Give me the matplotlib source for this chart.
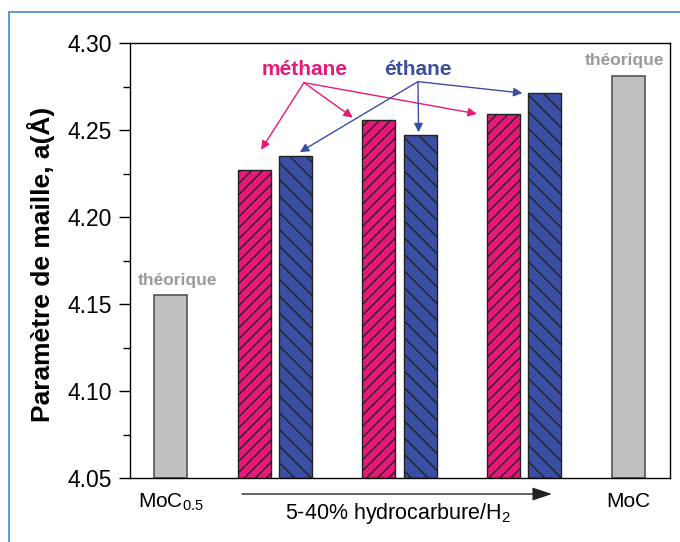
import matplotlib
matplotlib.use("Agg")
import matplotlib.pyplot as plt
from matplotlib.patches import Rectangle
from matplotlib.ticker import MultipleLocator

# ---- data ----
group_pos = [1, 2, 3]
methane = [4.227, 4.256, 4.259]
ethane = [4.235, 4.247, 4.271]
theo_pos = [0.168, 3.832]
theo_values = [4.155, 4.281]
theo_labels = [r"MoC$_{\mathrm{0.5}}$", "MoC"]
yticks = [4.05, 4.10, 4.15, 4.20, 4.25, 4.30]

plt.rcParams['font.family'] = ['Liberation Sans', 'DejaVu Sans']
plt.rcParams['mathtext.fontset'] = 'custom'
plt.rcParams['mathtext.rm'] = 'Liberation Sans'
plt.rcParams['mathtext.it'] = 'Liberation Sans:italic'
plt.rcParams['mathtext.bf'] = 'Liberation Sans:bold'
plt.rcParams['hatch.linewidth'] = 1.0

PINK = '#E8187A'
BLUE = '#3A4FA3'
GRAY = '#C0C0C0'
TXTGRAY = '#9A9A9A'

fig = plt.figure(figsize=(6.8, 5.42), dpi=100)
ax = fig.add_axes([130/680, 1-478/542, 540/680, 435/542])

# outer light-blue frame
fig.patches.append(Rectangle((9/680, -0.2), 1.5, 1-11.5/542+0.2, transform=fig.transFigure,
                             fill=False, edgecolor='#4A86C8', lw=1.2))

w = 0.265
off = 0.165
ax.bar(theo_pos, [v - 4.05 for v in theo_values], bottom=4.05, width=w,
       color=GRAY, edgecolor='#555555', lw=1.2, zorder=2)
ax.bar([p - off for p in group_pos], [v - 4.05 for v in methane], bottom=4.05, width=w,
       color=PINK, edgecolor='#222222', lw=1.0, hatch='///', zorder=2)
ax.bar([p + off for p in group_pos], [v - 4.05 for v in ethane], bottom=4.05, width=w,
       color=BLUE, edgecolor='#222222', lw=1.0, hatch='\\\\', zorder=2)

ax.set_xlim(-0.16, 4.168)
ax.set_ylim(4.05, 4.30)
ax.set_yticks(yticks)
ax.set_yticklabels([f"{t:.2f}" for t in yticks])
ax.yaxis.set_minor_locator(MultipleLocator(0.025))
ax.tick_params(axis='y', which='major', direction='out', length=8, width=1, labelsize=16.5, pad=5)
ax.tick_params(axis='y', which='minor', direction='out', length=5, width=1)
ax.set_xticks(theo_pos)
ax.set_xticklabels(theo_labels)
ax.tick_params(axis='x', length=0, labelsize=15, pad=10)
for s in ax.spines.values():
    s.set_linewidth(1.0)

ax.set_ylabel("Paramètre de maille, a(Å)", fontsize=19, fontweight='bold')
ax.yaxis.set_label_coords(-0.139, 0.49)

# théorique labels
ax.text(theo_pos[0] + 0.05, theo_values[0] + 0.006, "théorique", color=TXTGRAY,
        fontsize=12.5, fontweight='bold', ha='center', va='baseline')
ax.text(theo_pos[1] - 0.03, theo_values[1] + 0.0063, "théorique", color=TXTGRAY,
        fontsize=12.5, fontweight='bold', ha='center', va='baseline')

# méthane / éthane labels with arrows
m_org = (1.234, 4.2772)
e_org = (2.148, 4.2778)
ax.text(1.242, 4.2815, "méthane", color=PINK, fontsize=15, fontweight='bold',
        ha='center', va='baseline')
ax.text(2.148, 4.2815, "éthane", color=BLUE, fontsize=15, fontweight='bold',
        ha='center', va='baseline')

ap_m = dict(arrowstyle='-|>', color=PINK, lw=1.0, mutation_scale=13, shrinkA=0, shrinkB=0)
ap_e = dict(arrowstyle='-|>', color=BLUE, lw=1.0, mutation_scale=13, shrinkA=0, shrinkB=0)
m_targets = [(group_pos[0] - off + 0.056, methane[0] + 0.0117),
             (group_pos[1] - off - 0.21, methane[1] + 0.0012),
             (group_pos[2] - off - 0.215, methane[2] + 0.0003)]
e_targets = [(group_pos[0] + off + 0.036, ethane[0] + 0.0023),
             (group_pos[1] + off - 0.012, ethane[1] + 0.0017),
             (group_pos[2] + off - 0.18, ethane[2] + 0.0002)]
for t in m_targets:
    ax.annotate('', xy=t, xytext=m_org, arrowprops=ap_m, annotation_clip=False)
for t in e_targets:
    ax.annotate('', xy=t, xytext=e_org, arrowprops=ap_e, annotation_clip=False)

# bottom arrow and label
ax.annotate('', xy=(3.222, -0.0368), xytext=(0.7375, -0.0368),
            xycoords=('data', 'axes fraction'), textcoords=('data', 'axes fraction'),
            arrowprops=dict(arrowstyle='-|>,head_length=0.6,head_width=0.2', color='#222222',
                            lw=1.0, mutation_scale=20, shrinkA=0, shrinkB=0),
            annotation_clip=False)
ax.text(1.99, -0.095, r"5-40% hydrocarbure/H$_{\mathrm{2}}$", transform=ax.get_xaxis_transform(),
        fontsize=15.5, ha='center', va='baseline')

fig.savefig("out.png", dpi=100)
